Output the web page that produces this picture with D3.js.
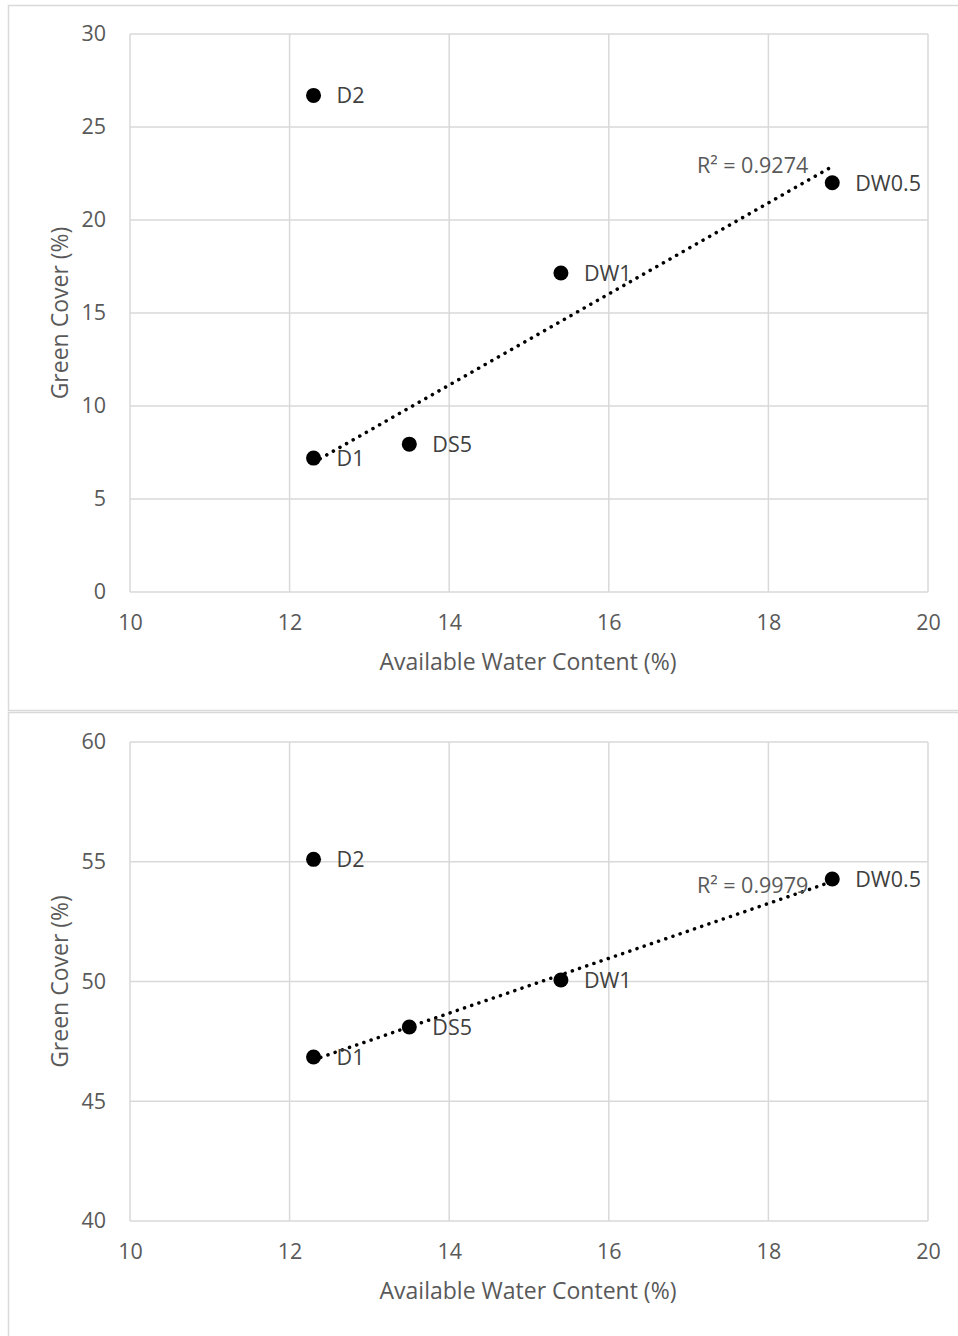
<!DOCTYPE html>
<html>
<head>
<meta charset="utf-8">
<script src="https://cdn.jsdelivr.net/npm/d3@7"></script>
<style>
  body { margin: 0; background: #fff; }
  svg { display: block; font-family: "Open Sans", sans-serif; }
</style>
</head>
<body>
<svg id="chart" width="958" height="1336"></svg>
<script>
// shared x values (Available Water Content, %)
const treatments = ['D2', 'D1', 'DS5', 'DW1', 'DW0.5'];
const waterContent = [12.3, 12.3, 13.5, 15.4, 18.8];

// green cover values for the two panels
const coverTop = [26.7, 7.2, 7.95, 17.15, 22.0];
const coverBottom = [55.1, 46.85, 48.1, 50.06, 54.28];

// treatments included in the trendline
const fitTreatments = ['D1', 'DS5', 'DW1', 'DW0.5'];

const xTicks = [10, 12, 14, 16, 18, 20];
const yTicksTop = [0, 5, 10, 15, 20, 25, 30];
const yTicksBottom = [40, 45, 50, 55, 60];

const r2Top = 'R² = 0.9274';
const r2Bottom = 'R² = 0.9979';

const svg = d3.select('#chart');

function linearFit(xs, ys) {
    const mx = d3.mean(xs), my = d3.mean(ys);
    const sxy = d3.sum(xs, (x, i) => (x - mx) * (ys[i] - my));
    const sxx = d3.sum(xs, x => (x - mx) * (x - mx));
    const slope = sxy / sxx;
    return x => my + slope * (x - mx);
}

function drawPanel(cfg) {
    const g = svg.append('g');

    // outer frame
    g.append('rect')
        .attr('x', 8.5).attr('y', cfg.frameTop + 0.5)
        .attr('width', 1000).attr('height', cfg.frameHeight)
        .attr('fill', 'none').attr('stroke', '#d9d9d9').attr('stroke-width', 1.5);

    const x = d3.scaleLinear().domain([10, 20]).range([130, 928]);
    const y = d3.scaleLinear().domain(cfg.yDomain).range([cfg.plotBottom, cfg.plotTop]);

    // gridlines
    g.selectAll('.vgrid').data(xTicks).join('line')
        .attr('x1', d => x(d)).attr('x2', d => x(d))
        .attr('y1', cfg.plotTop).attr('y2', cfg.plotBottom)
        .attr('stroke', '#d9d9d9').attr('stroke-width', 1.5);
    g.selectAll('.hgrid').data(cfg.yTicks).join('line')
        .attr('x1', 130).attr('x2', 928)
        .attr('y1', d => y(d)).attr('y2', d => y(d))
        .attr('stroke', '#d9d9d9').attr('stroke-width', 1.5);

    // axes (labels only)
    const xAxis = g.append('g')
        .attr('transform', `translate(0,${cfg.plotBottom})`)
        .call(d3.axisBottom(x).tickValues(xTicks).tickSize(0).tickPadding(23));
    const yAxis = g.append('g')
        .attr('transform', 'translate(130,0)')
        .call(d3.axisLeft(y).tickValues(cfg.yTicks).tickSize(0).tickPadding(24));
    [xAxis, yAxis].forEach(a => {
        a.select('.domain').remove();
        a.selectAll('text')
            .attr('fill', '#595959')
            .style('font-size', '21.5px')
            .style('font-family', '"Open Sans", sans-serif');
    });

    // axis titles
    g.append('text')
        .attr('x', 528).attr('y', cfg.plotBottom + 78)
        .attr('text-anchor', 'middle')
        .attr('fill', '#595959').style('font-size', '23px')
        .text('Available Water Content (%)');
    g.append('text')
        .attr('transform', `translate(68,${(cfg.plotTop + cfg.plotBottom) / 2}) rotate(-90)`)
        .attr('text-anchor', 'middle')
        .attr('fill', '#595959').style('font-size', '23px')
        .text('Green Cover (%)');

    // trendline
    const fitX = fitTreatments.map(t => waterContent[treatments.indexOf(t)]);
    const fitY = fitTreatments.map(t => cfg.values[treatments.indexOf(t)]);
    const fit = linearFit(fitX, fitY);
    const x0 = d3.min(fitX), x1 = d3.max(fitX);
    g.append('line')
        .attr('x1', x(x0)).attr('y1', y(fit(x0)))
        .attr('x2', x(x1)).attr('y2', y(fit(x1)))
        .attr('stroke', '#000').attr('stroke-width', 3.5)
        .attr('stroke-linecap', 'round')
        .attr('stroke-dasharray', '0.1 7.5');

    // points
    g.selectAll('.pt').data(treatments).join('circle')
        .attr('cx', (d, i) => x(waterContent[i]))
        .attr('cy', (d, i) => y(cfg.values[i]))
        .attr('r', 7.5)
        .attr('fill', '#000');

    // point labels
    g.selectAll('.lbl').data(treatments).join('text')
        .attr('x', (d, i) => x(waterContent[i]) + 23)
        .attr('y', (d, i) => y(cfg.values[i]) + 8)
        .attr('fill', '#404040')
        .style('font-size', '21.5px')
        .text(d => d);

    // R² label
    g.append('text')
        .attr('x', x(x1) - 24)
        .attr('y', y(fit(x1)) + cfg.r2Dy)
        .attr('text-anchor', 'end')
        .attr('fill', '#595959')
        .style('font-size', '21.5px')
        .text(cfg.r2);
}

drawPanel({
    frameTop: 5, frameHeight: 705,
    plotTop: 34, plotBottom: 592,
    yDomain: [0, 30], yTicks: yTicksTop,
    values: coverTop, r2: r2Top, r2Dy: 7
});

drawPanel({
    frameTop: 712, frameHeight: 700,
    plotTop: 742, plotBottom: 1221,
    yDomain: [40, 60], yTicks: yTicksBottom,
    values: coverBottom, r2: r2Bottom, r2Dy: 11
});
</script>
</body>
</html>
